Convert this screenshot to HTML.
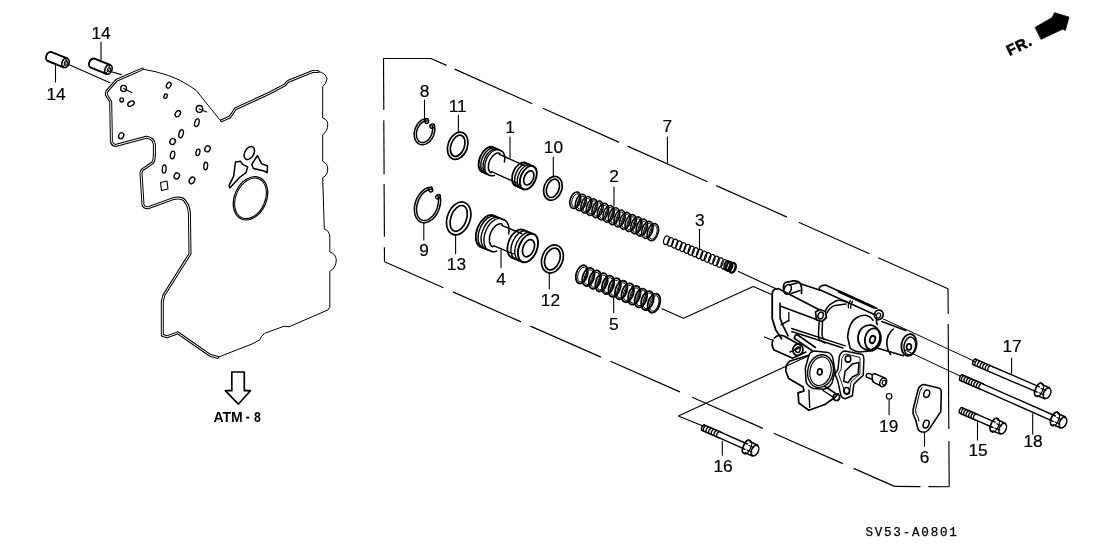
<!DOCTYPE html><html><head><meta charset="utf-8"><style>
html,body{margin:0;padding:0;background:#fff;}
svg{display:block;will-change:transform;}
text{font-family:"Liberation Sans",sans-serif;fill:#000;stroke:none;}
</style></head><body>
<svg width="1108" height="553" viewBox="0 0 1108 553" stroke="#000" stroke-linecap="round" stroke-linejoin="round">
<rect width="1108" height="553" fill="#fff" stroke="none"/>
<path d="M142.3,69 Q172,74 188.6,85.3 Q193,88 196.2,90.4 L219.8,119.8 L221.6,120.7 L229.7,117.1 Q233.3,112.5 235.2,108.9 L270,92.9 L285.2,84.8 Q287,81.5 289,81 L313,71.4 L318,71.4 Q326,73 327,79 Q326,84 322.7,86.6 L322.7,118 Q328,120 327.7,124.6 Q328,131 322.7,134.7 L322.7,161.3 Q328,164 327.7,168.9 Q328,175 322.7,177.7 L324.3,229 Q329.8,231 329.8,237.2 L329.8,251.9 Q336,254 336.3,260 Q336,268 329.8,271.4 L329.8,307.3 L328,309.9 L289,326.8 L284.2,326.2 L264.7,333.3 Q261,336 259.8,339.8 L252,344 L217.6,357.4 L210,355.2 L177.7,332.8 L166.9,336.8 L162.3,335.3 L162.3,301.4 L163.8,295.3 L190,253.8 L189.4,213 Q189,206 185.4,201.7 Q183,197 174,198.4 L147.9,207.8 Q144,208 143,204.9 L141,173.2 Q141,171 142.2,169.9 L152.8,162.6 Q154.4,160 154.4,154.4 L154.4,145 Q154,138 146.3,137.3 L115.5,145.5 Q112,145 111.4,141.4 L110.7,101.8 L106.5,95 Q105.8,92.5 107.5,90.5 L116.3,80.4 Z" stroke-width="1.00" fill="none" />
<path d="M221.6,120.7 L229.7,117.1 Q233.3,112.5 235.2,108.9 L270,92.9 L285.2,84.8 Q287,81.5 289,81 L313,71.4 L318,71.4" stroke-width="3.00" fill="none" />
<path d="M221.6,120.7 L229.7,117.1 Q233.3,112.5 235.2,108.9 L270,92.9 L285.2,84.8 Q287,81.5 289,81 L313,71.4 L318,71.4" stroke-width="1.00" fill="none" stroke="#fff"/>
<path d="M142.3,69 L116.3,80.4 L107.5,90.5 Q105.8,92.5 106.5,95 L110.7,101.8 L111.4,141.4 Q112,145 115.5,145.5 L146.3,137.3 Q154,138 154.4,145 L154.4,154.4 Q154.4,160 152.8,162.6 L142.2,169.9 Q141,171 141,173.2 L143,204.9 Q144,208 147.9,207.8 L174,198.4 Q183,197 185.4,201.7 Q189,206 189.4,213 L190,253.8 L163.8,295.3 L162.3,301.4 L162.3,335.3 L166.9,336.8 L177.7,332.8 L210,355.2 L217.6,357.4" stroke-width="3.00" fill="none" />
<path d="M142.3,69 L116.3,80.4 L107.5,90.5 Q105.8,92.5 106.5,95 L110.7,101.8 L111.4,141.4 Q112,145 115.5,145.5 L146.3,137.3 Q154,138 154.4,145 L154.4,154.4 Q154.4,160 152.8,162.6 L142.2,169.9 Q141,171 141,173.2 L143,204.9 Q144,208 147.9,207.8 L174,198.4 Q183,197 185.4,201.7 Q189,206 189.4,213 L190,253.8 L163.8,295.3 L162.3,301.4 L162.3,335.3 L166.9,336.8 L177.7,332.8 L210,355.2 L217.6,357.4" stroke-width="1.00" fill="none" stroke="#fff"/>
<ellipse cx="123.6" cy="88.5" rx="2.9" ry="3.1" transform="rotate(0 123.6 88.5)" stroke-width="1.35" fill="none" />
<ellipse cx="121.7" cy="99.9" rx="1.8" ry="2.1" transform="rotate(0 121.7 99.9)" stroke-width="1.35" fill="none" />
<ellipse cx="131.0" cy="103.6" rx="3.5" ry="2.2" transform="rotate(-30 131.0 103.6)" stroke-width="1.35" fill="none" />
<ellipse cx="168.7" cy="85.2" rx="2.1" ry="3.1" transform="rotate(30 168.7 85.2)" stroke-width="1.35" fill="none" />
<ellipse cx="165.6" cy="96.2" rx="1.6" ry="2.2" transform="rotate(20 165.6 96.2)" stroke-width="1.35" fill="none" />
<ellipse cx="121.2" cy="135.7" rx="2.4" ry="3.1" transform="rotate(30 121.2 135.7)" stroke-width="1.35" fill="none" />
<ellipse cx="177.8" cy="113.7" rx="2.3" ry="3.4" transform="rotate(35 177.8 113.7)" stroke-width="1.35" fill="none" />
<ellipse cx="196.9" cy="122.7" rx="2.1" ry="3.9" transform="rotate(15 196.9 122.7)" stroke-width="1.35" fill="none" />
<ellipse cx="181.1" cy="133.8" rx="2.1" ry="4.1" transform="rotate(15 181.1 133.8)" stroke-width="1.35" fill="none" />
<ellipse cx="172.6" cy="141.5" rx="2.6" ry="3.1" transform="rotate(30 172.6 141.5)" stroke-width="1.35" fill="none" />
<ellipse cx="172.6" cy="155.0" rx="2.1" ry="3.9" transform="rotate(10 172.6 155.0)" stroke-width="1.35" fill="none" />
<ellipse cx="197.9" cy="152.4" rx="1.9" ry="3.3" transform="rotate(15 197.9 152.4)" stroke-width="1.35" fill="none" />
<ellipse cx="207.5" cy="148.8" rx="2.6" ry="3.1" transform="rotate(30 207.5 148.8)" stroke-width="1.35" fill="none" />
<ellipse cx="205.7" cy="166.0" rx="1.9" ry="3.8" transform="rotate(5 205.7 166.0)" stroke-width="1.35" fill="none" />
<ellipse cx="164.2" cy="169.1" rx="1.9" ry="4.1" transform="rotate(5 164.2 169.1)" stroke-width="1.35" fill="none" />
<ellipse cx="176.8" cy="175.9" rx="2.6" ry="3.1" transform="rotate(30 176.8 175.9)" stroke-width="1.35" fill="none" />
<ellipse cx="192.0" cy="180.4" rx="2.6" ry="3.5" transform="rotate(30 192.0 180.4)" stroke-width="1.35" fill="none" />
<ellipse cx="199.4" cy="108.9" rx="3.2" ry="3.4" transform="rotate(0 199.4 108.9)" stroke-width="1.35" fill="none" />
<line x1="123.6" y1="88.5" x2="131.8" y2="92.6" stroke-width="1.10" />
<line x1="199.4" y1="108.9" x2="206.7" y2="112.1" stroke-width="1.10" />
<path d="M160.5,182.5 L167,181 L168,189 L161.5,190.5 Z" stroke-width="1.10" fill="none" />
<ellipse cx="249.3" cy="153.0" rx="4.5" ry="7.0" transform="rotate(30 249.3 153.0)" stroke-width="1.50" fill="none" />
<ellipse cx="250.5" cy="198.3" rx="16.0" ry="22.6" transform="rotate(24 250.5 198.3)" stroke-width="1.20" fill="none" />
<ellipse cx="250.5" cy="198.3" rx="14.6" ry="21.2" transform="rotate(24 250.5 198.3)" stroke-width="1.10" fill="none" />
<path d="M257.5,155.5 L251.8,164.4 L253.4,168.5 L264,171 L267.2,172.6 L267.5,166 L261.5,163.6 Z" stroke-width="1.50" fill="none" />
<path d="M235.5,162 L240.4,161.2 L242.8,164.4 L247.7,166.9 L246,172.6 L239.5,177.5 L229.8,188 L229,185.6 L233.8,175.8 L234.7,167.7 Z" stroke-width="1.50" fill="none" />
<path d="M47.9,61.0 A3.5,4.8 22 0 1 51.5,52.1" stroke-width="1.90" fill="none" />
<line x1="47.9" y1="61.0" x2="63.7" y2="67.4" stroke-width="1.90" />
<line x1="51.5" y1="52.1" x2="67.3" y2="58.4" stroke-width="1.90" />
<ellipse cx="65.5" cy="62.9" rx="3.5" ry="4.8" transform="rotate(22 65.5 62.9)" stroke-width="1.60" fill="none" />
<ellipse cx="66.0" cy="63.1" rx="1.6" ry="2.2" transform="rotate(22 66.0 63.1)" stroke-width="1.10" fill="none" />
<path d="M60.9,66.2 A3.5,4.8 22 0 0 64.5,57.3" stroke-width="0.90" fill="none" />
<path d="M90.9,67.6 A3.5,4.8 22 0 1 94.5,58.7" stroke-width="1.90" fill="none" />
<line x1="90.9" y1="67.6" x2="106.7" y2="74.0" stroke-width="1.90" />
<line x1="94.5" y1="58.7" x2="110.3" y2="65.0" stroke-width="1.90" />
<ellipse cx="108.5" cy="69.5" rx="3.5" ry="4.8" transform="rotate(22 108.5 69.5)" stroke-width="1.60" fill="none" />
<ellipse cx="109.0" cy="69.7" rx="1.6" ry="2.2" transform="rotate(22 109.0 69.7)" stroke-width="1.10" fill="none" />
<path d="M103.9,72.8 A3.5,4.8 22 0 0 107.5,63.9" stroke-width="0.90" fill="none" />
<line x1="69.2" y1="64.8" x2="110.0" y2="82.7" stroke-width="1.10" />
<line x1="112.4" y1="72.0" x2="121.3" y2="74.6" stroke-width="1.10" />
<line x1="101.0" y1="42.0" x2="101.0" y2="60.0" stroke-width="1.10" />
<line x1="55.5" y1="64.6" x2="55.5" y2="82.0" stroke-width="1.10" />
<line x1="383.5" y1="58.5" x2="430.9" y2="58.5" stroke-width="1.15" />
<line x1="430.9" y1="58.5" x2="446.5" y2="65.4" stroke-width="1.15" stroke-linecap="butt"/>
<line x1="454.7" y1="69.1" x2="532.3" y2="103.7" stroke-width="1.15" stroke-linecap="butt"/>
<line x1="542.8" y1="108.3" x2="619.2" y2="142.4" stroke-width="1.15" stroke-linecap="butt"/>
<line x1="627.5" y1="146.1" x2="707.5" y2="181.7" stroke-width="1.15" stroke-linecap="butt"/>
<line x1="716.2" y1="185.6" x2="787.0" y2="217.1" stroke-width="1.15" stroke-linecap="butt"/>
<line x1="798.6" y1="222.3" x2="869.5" y2="253.8" stroke-width="1.15" stroke-linecap="butt"/>
<line x1="878.2" y1="257.7" x2="948.0" y2="288.8" stroke-width="1.15" stroke-linecap="butt"/>
<line x1="948.0" y1="288.8" x2="948.2" y2="314.0" stroke-width="1.15" stroke-linecap="butt"/>
<line x1="948.2" y1="324.0" x2="948.8" y2="429.0" stroke-width="1.15" stroke-linecap="butt"/>
<line x1="948.9" y1="441.0" x2="949.2" y2="486.8" stroke-width="1.15" stroke-linecap="butt"/>
<line x1="949.2" y1="486.8" x2="928.4" y2="486.6" stroke-width="1.15" stroke-linecap="butt"/>
<line x1="920.4" y1="486.6" x2="894.5" y2="486.4" stroke-width="1.15" stroke-linecap="butt"/>
<line x1="894.5" y1="486.4" x2="853.6" y2="468.4" stroke-width="1.15" stroke-linecap="butt"/>
<line x1="842.8" y1="463.6" x2="773.7" y2="433.2" stroke-width="1.15" stroke-linecap="butt"/>
<line x1="762.9" y1="428.4" x2="692.2" y2="397.3" stroke-width="1.15" stroke-linecap="butt"/>
<line x1="679.9" y1="391.9" x2="610.4" y2="361.3" stroke-width="1.15" stroke-linecap="butt"/>
<line x1="601.0" y1="357.1" x2="530.4" y2="326.1" stroke-width="1.15" stroke-linecap="butt"/>
<line x1="521.0" y1="321.9" x2="452.9" y2="291.9" stroke-width="1.15" stroke-linecap="butt"/>
<line x1="443.5" y1="287.8" x2="384.5" y2="261.8" stroke-width="1.15" stroke-linecap="butt"/>
<line x1="384.5" y1="261.8" x2="384.4" y2="247.2" stroke-width="1.15" stroke-linecap="butt"/>
<line x1="384.4" y1="236.8" x2="384.1" y2="184.0" stroke-width="1.15" stroke-linecap="butt"/>
<line x1="384.1" y1="174.3" x2="383.8" y2="120.2" stroke-width="1.15" stroke-linecap="butt"/>
<line x1="383.8" y1="109.8" x2="383.5" y2="58.5" stroke-width="1.15" stroke-linecap="butt"/>
<ellipse cx="457.7" cy="145.8" rx="9.7" ry="14.0" transform="rotate(20 457.7 145.8)" stroke-width="1.70" fill="none" />
<ellipse cx="457.7" cy="145.8" rx="6.7" ry="11.0" transform="rotate(20 457.7 145.8)" stroke-width="1.70" fill="none" />
<ellipse cx="552.9" cy="188.3" rx="8.9" ry="12.3" transform="rotate(20 552.9 188.3)" stroke-width="1.70" fill="none" />
<ellipse cx="552.9" cy="188.3" rx="6.1" ry="9.5" transform="rotate(20 552.9 188.3)" stroke-width="1.70" fill="none" />
<ellipse cx="458.7" cy="218.4" rx="11.4" ry="17.0" transform="rotate(20 458.7 218.4)" stroke-width="1.70" fill="none" />
<ellipse cx="458.7" cy="218.4" rx="7.8" ry="13.4" transform="rotate(20 458.7 218.4)" stroke-width="1.70" fill="none" />
<ellipse cx="552.4" cy="259.0" rx="10.4" ry="14.4" transform="rotate(20 552.4 259.0)" stroke-width="1.70" fill="none" />
<ellipse cx="552.4" cy="259.0" rx="7.3" ry="11.3" transform="rotate(20 552.4 259.0)" stroke-width="1.70" fill="none" />
<path d="M433.9,124.2 L434.3,125.5 L434.6,126.8 L434.8,128.2 L434.8,129.6 L434.7,131.1 L434.4,132.6 L434.0,134.1 L433.5,135.5 L432.9,136.9 L432.2,138.2 L431.4,139.4 L430.5,140.6 L429.5,141.6 L428.4,142.5 L427.3,143.2 L426.2,143.9 L425.0,144.3 L423.9,144.6 L422.7,144.7 L421.6,144.7 L420.5,144.5 L419.4,144.1 L418.5,143.6 L417.6,142.9 L416.7,142.1 L416.0,141.1 L415.4,140.0 L414.9,138.8 L414.6,137.5 L414.3,136.2 L414.2,134.8 L414.2,133.3 L414.4,131.8 L414.7,130.4 L415.1,128.9 L415.6,127.5 L416.3,126.1 L417.0,124.8 L417.9,123.6 L418.8,122.5 L419.8,121.5 L420.9,120.7 L422.0,119.9 L423.1,119.4 L424.3,119.0 L425.5,118.7 L426.6,118.7 L427.8,118.8" stroke-width="1.50" fill="none" />
<path d="M432.0,125.3 L432.3,126.3 L432.5,127.4 L432.6,128.6 L432.6,129.8 L432.5,131.0 L432.2,132.2 L431.9,133.5 L431.5,134.7 L431.0,135.8 L430.4,136.9 L429.7,138.0 L429.0,138.9 L428.2,139.8 L427.4,140.6 L426.5,141.2 L425.6,141.7 L424.7,142.1 L423.8,142.4 L422.9,142.5 L422.0,142.5 L421.1,142.4 L420.3,142.1 L419.5,141.7 L418.8,141.1 L418.2,140.4 L417.7,139.6 L417.2,138.8 L416.9,137.8 L416.6,136.7 L416.5,135.6 L416.4,134.4 L416.4,133.2 L416.6,132.0 L416.8,130.8 L417.2,129.6 L417.6,128.4 L418.2,127.2 L418.8,126.1 L419.5,125.1 L420.2,124.2 L421.0,123.4 L421.9,122.6 L422.8,122.0 L423.7,121.5 L424.6,121.2 L425.5,120.9 L426.4,120.9 L427.3,120.9" stroke-width="1.50" fill="none" />
<ellipse cx="432.2" cy="126.1" rx="2.0" ry="2.4" transform="rotate(60 432.2 126.1)" stroke-width="1.40" fill="none" />
<ellipse cx="426.6" cy="121.0" rx="2.0" ry="2.4" transform="rotate(-20 426.6 121.0)" stroke-width="1.40" fill="none" />
<path d="M439.7,194.5 L440.2,196.2 L440.5,198.0 L440.6,199.9 L440.6,201.8 L440.4,203.8 L440.0,205.8 L439.5,207.8 L438.8,209.8 L438.0,211.7 L437.0,213.5 L436.0,215.2 L434.8,216.8 L433.5,218.2 L432.1,219.5 L430.7,220.5 L429.2,221.4 L427.7,222.0 L426.3,222.5 L424.8,222.7 L423.3,222.7 L422.0,222.4 L420.6,222.0 L419.4,221.3 L418.3,220.4 L417.3,219.3 L416.4,218.0 L415.7,216.6 L415.1,215.0 L414.7,213.2 L414.4,211.4 L414.4,209.5 L414.4,207.5 L414.7,205.5 L415.1,203.5 L415.7,201.5 L416.4,199.6 L417.3,197.7 L418.3,195.9 L419.4,194.3 L420.6,192.8 L421.9,191.4 L423.3,190.2 L424.8,189.2 L426.2,188.4 L427.7,187.8 L429.2,187.4 L430.7,187.3 L432.1,187.4" stroke-width="1.50" fill="none" />
<path d="M437.8,195.6 L438.2,197.1 L438.4,198.7 L438.5,200.3 L438.4,202.0 L438.2,203.7 L437.9,205.5 L437.4,207.3 L436.8,209.0 L436.1,210.7 L435.2,212.3 L434.3,213.8 L433.3,215.2 L432.2,216.4 L431.1,217.5 L429.9,218.5 L428.6,219.3 L427.4,219.9 L426.1,220.3 L424.9,220.5 L423.7,220.5 L422.6,220.3 L421.5,219.9 L420.5,219.4 L419.6,218.6 L418.8,217.7 L418.1,216.6 L417.5,215.3 L417.1,213.9 L416.7,212.4 L416.6,210.8 L416.5,209.2 L416.6,207.5 L416.9,205.7 L417.3,204.0 L417.8,202.2 L418.4,200.5 L419.2,198.8 L420.0,197.3 L421.0,195.8 L422.0,194.4 L423.1,193.2 L424.3,192.2 L425.5,191.3 L426.8,190.5 L428.0,190.0 L429.2,189.6 L430.5,189.5 L431.6,189.5" stroke-width="1.50" fill="none" />
<ellipse cx="438.0" cy="196.8" rx="2.0" ry="2.4" transform="rotate(60 438.0 196.8)" stroke-width="1.40" fill="none" />
<ellipse cx="430.7" cy="189.6" rx="2.0" ry="2.4" transform="rotate(-20 430.7 189.6)" stroke-width="1.40" fill="none" />
<path d="M481.8,171.7 A8.1,13.5 24.053187780906075 0 1 492.8,147.1" stroke-width="1.90" fill="none" />
<path d="M484.0,172.7 A8.1,13.5 24.053187780906075 0 1 495.0,148.1" stroke-width="1.40" fill="none" />
<path d="M486.2,173.7 A8.1,13.5 24.053187780906075 0 1 497.2,149.1" stroke-width="1.40" fill="none" />
<path d="M488.4,174.7 A8.1,13.5 24.053187780906075 0 1 499.4,150.0" stroke-width="1.40" fill="none" />
<line x1="481.8" y1="171.7" x2="490.0" y2="175.4" stroke-width="1.70" />
<line x1="492.8" y1="147.1" x2="501.0" y2="150.7" stroke-width="1.70" />
<path d="M501.0,150.7 L501.5,151.0 L501.9,151.2 L502.3,151.5 L502.6,151.9 L503.0,152.3 L503.3,152.7 L503.6,153.2 L503.8,153.7 L504.1,154.3 L504.3,154.9 L504.4,155.5 L504.6,156.1 L504.7,156.8 L504.7,157.5 L504.7,158.2 L504.7,158.9 L504.7,159.7 L504.6,160.4 L504.5,161.2 L504.4,162.0" stroke-width="1.50" fill="none" />
<path d="M490.0,175.4 L490.2,175.5 L490.4,175.6 L490.6,175.6 L490.8,175.7 L491.0,175.7 L491.2,175.8 L491.5,175.8 L491.7,175.8 L491.9,175.8 L492.1,175.8 L492.3,175.8 L492.6,175.8 L492.8,175.8 L493.0,175.8 L493.3,175.7 L493.5,175.7 L493.7,175.6 L494.0,175.6 L494.2,175.5 L494.5,175.4" stroke-width="1.50" fill="none" />
<path d="M491.2,172.8 A6.4,10.6 24.053187780906075 0 1 499.9,153.4" stroke-width="1.50" fill="none" />
<line x1="491.6" y1="171.7" x2="516.3" y2="182.7" stroke-width="1.40" />
<line x1="499.4" y1="154.4" x2="524.0" y2="165.4" stroke-width="1.40" />
<path d="M515.1,185.5 A7.5,12.5 24.053187780906075 0 1 525.3,162.7" stroke-width="1.80" fill="none" />
<path d="M517.8,186.7 A7.5,12.5 24.053187780906075 0 1 528.0,163.9" stroke-width="1.40" fill="none" />
<path d="M520.4,187.9 A7.5,12.5 24.053187780906075 0 1 530.6,165.1" stroke-width="1.40" fill="none" />
<line x1="515.1" y1="185.5" x2="523.2" y2="189.1" stroke-width="1.70" />
<line x1="525.3" y1="162.7" x2="533.4" y2="166.3" stroke-width="1.70" />
<ellipse cx="528.3" cy="177.7" rx="7.5" ry="12.5" transform="rotate(24.053187780906075 528.3 177.7)" stroke-width="1.90" fill="none" />
<ellipse cx="528.8" cy="177.9" rx="4.5" ry="7.5" transform="rotate(24.053187780906075 528.8 177.9)" stroke-width="1.70" fill="none" />
<path d="M480.1,246.7 A10.2,17.0 22.275897848258975 0 1 492.9,215.3" stroke-width="1.90" fill="none" />
<path d="M483.1,248.0 A10.2,17.0 22.275897848258975 0 1 495.9,216.5" stroke-width="1.40" fill="none" />
<path d="M486.1,249.2 A10.2,17.0 22.275897848258975 0 1 498.9,217.7" stroke-width="1.40" fill="none" />
<path d="M488.9,250.4 A10.2,17.0 22.275897848258975 0 1 501.8,218.9" stroke-width="1.40" fill="none" />
<line x1="480.1" y1="246.7" x2="491.2" y2="251.3" stroke-width="1.70" />
<line x1="492.9" y1="215.3" x2="504.0" y2="219.8" stroke-width="1.70" />
<path d="M504.0,219.8 L504.6,220.1 L505.2,220.4 L505.7,220.8 L506.1,221.2 L506.6,221.7 L507.0,222.2 L507.4,222.8 L507.7,223.5 L508.0,224.2 L508.3,224.9 L508.5,225.6 L508.7,226.4 L508.9,227.3 L509.0,228.1 L509.0,229.0 L509.0,230.0 L509.0,230.9 L508.9,231.9 L508.8,232.8 L508.7,233.8" stroke-width="1.50" fill="none" />
<path d="M491.2,251.3 L491.4,251.4 L491.7,251.5 L491.9,251.5 L492.2,251.6 L492.4,251.7 L492.7,251.7 L493.0,251.7 L493.3,251.7 L493.5,251.7 L493.8,251.7 L494.1,251.7 L494.4,251.7 L494.7,251.7 L495.0,251.6 L495.3,251.6 L495.6,251.5 L495.9,251.4 L496.1,251.3 L496.4,251.2 L496.7,251.1" stroke-width="1.50" fill="none" />
<path d="M492.9,246.9 A7.4,12.3 22.275897848258975 0 1 502.3,224.1" stroke-width="1.50" fill="none" />
<line x1="493.4" y1="245.7" x2="513.3" y2="253.9" stroke-width="1.40" />
<line x1="501.8" y1="225.4" x2="521.7" y2="233.5" stroke-width="1.40" />
<path d="M511.8,257.6 A9.0,15.0 22.275897848258975 0 1 523.2,229.8" stroke-width="1.80" fill="none" />
<path d="M515.3,259.0 A9.0,15.0 22.275897848258975 0 1 526.7,231.2" stroke-width="1.40" fill="none" />
<path d="M518.7,260.4 A9.0,15.0 22.275897848258975 0 1 530.1,232.7" stroke-width="1.40" fill="none" />
<line x1="511.8" y1="257.6" x2="522.3" y2="261.9" stroke-width="1.70" />
<line x1="523.2" y1="229.8" x2="533.7" y2="234.1" stroke-width="1.70" />
<ellipse cx="528.0" cy="248.0" rx="9.0" ry="15.0" transform="rotate(22.275897848258975 528.0 248.0)" stroke-width="1.90" fill="none" />
<ellipse cx="528.5" cy="248.2" rx="5.4" ry="9.0" transform="rotate(22.275897848258975 528.5 248.2)" stroke-width="1.70" fill="none" />
<ellipse cx="575.3" cy="200.2" rx="5.1" ry="8.5" transform="rotate(18 575.3 200.2)" stroke-width="1.60" fill="none" />
<ellipse cx="575.6" cy="200.4" rx="3.5" ry="6.7" transform="rotate(18 575.6 200.4)" stroke-width="0.90" fill="none" />
<ellipse cx="580.8" cy="202.5" rx="5.1" ry="8.5" transform="rotate(18 580.8 202.5)" stroke-width="1.60" fill="none" />
<ellipse cx="581.1" cy="202.7" rx="3.5" ry="6.7" transform="rotate(18 581.1 202.7)" stroke-width="0.90" fill="none" />
<ellipse cx="586.4" cy="204.8" rx="5.1" ry="8.5" transform="rotate(18 586.4 204.8)" stroke-width="1.60" fill="none" />
<ellipse cx="586.7" cy="205.0" rx="3.5" ry="6.7" transform="rotate(18 586.7 205.0)" stroke-width="0.90" fill="none" />
<ellipse cx="591.9" cy="207.1" rx="5.1" ry="8.6" transform="rotate(18 591.9 207.1)" stroke-width="1.60" fill="none" />
<ellipse cx="592.2" cy="207.3" rx="3.5" ry="6.8" transform="rotate(18 592.2 207.3)" stroke-width="0.90" fill="none" />
<ellipse cx="597.5" cy="209.3" rx="5.2" ry="8.6" transform="rotate(18 597.5 209.3)" stroke-width="1.60" fill="none" />
<ellipse cx="597.8" cy="209.5" rx="3.6" ry="6.8" transform="rotate(18 597.8 209.5)" stroke-width="0.90" fill="none" />
<ellipse cx="603.0" cy="211.6" rx="5.2" ry="8.6" transform="rotate(18 603.0 211.6)" stroke-width="1.60" fill="none" />
<ellipse cx="603.3" cy="211.8" rx="3.6" ry="6.8" transform="rotate(18 603.3 211.8)" stroke-width="0.90" fill="none" />
<ellipse cx="608.6" cy="213.9" rx="5.2" ry="8.6" transform="rotate(18 608.6 213.9)" stroke-width="1.60" fill="none" />
<ellipse cx="608.9" cy="214.1" rx="3.6" ry="6.8" transform="rotate(18 608.9 214.1)" stroke-width="0.90" fill="none" />
<ellipse cx="614.1" cy="216.2" rx="5.2" ry="8.7" transform="rotate(18 614.1 216.2)" stroke-width="1.60" fill="none" />
<ellipse cx="614.4" cy="216.4" rx="3.6" ry="6.9" transform="rotate(18 614.4 216.4)" stroke-width="0.90" fill="none" />
<ellipse cx="619.6" cy="218.5" rx="5.2" ry="8.7" transform="rotate(18 619.6 218.5)" stroke-width="1.60" fill="none" />
<ellipse cx="619.9" cy="218.7" rx="3.6" ry="6.9" transform="rotate(18 619.9 218.7)" stroke-width="0.90" fill="none" />
<ellipse cx="625.2" cy="220.8" rx="5.2" ry="8.7" transform="rotate(18 625.2 220.8)" stroke-width="1.60" fill="none" />
<ellipse cx="625.5" cy="221.0" rx="3.6" ry="6.9" transform="rotate(18 625.5 221.0)" stroke-width="0.90" fill="none" />
<ellipse cx="630.7" cy="223.1" rx="5.2" ry="8.7" transform="rotate(18 630.7 223.1)" stroke-width="1.60" fill="none" />
<ellipse cx="631.0" cy="223.3" rx="3.6" ry="6.9" transform="rotate(18 631.0 223.3)" stroke-width="0.90" fill="none" />
<ellipse cx="636.3" cy="225.3" rx="5.2" ry="8.7" transform="rotate(18 636.3 225.3)" stroke-width="1.60" fill="none" />
<ellipse cx="636.6" cy="225.5" rx="3.6" ry="6.9" transform="rotate(18 636.6 225.5)" stroke-width="0.90" fill="none" />
<ellipse cx="641.8" cy="227.6" rx="5.3" ry="8.8" transform="rotate(18 641.8 227.6)" stroke-width="1.60" fill="none" />
<ellipse cx="642.1" cy="227.8" rx="3.7" ry="7.0" transform="rotate(18 642.1 227.8)" stroke-width="0.90" fill="none" />
<ellipse cx="647.4" cy="229.9" rx="5.3" ry="8.8" transform="rotate(18 647.4 229.9)" stroke-width="1.60" fill="none" />
<ellipse cx="647.7" cy="230.1" rx="3.7" ry="7.0" transform="rotate(18 647.7 230.1)" stroke-width="0.90" fill="none" />
<ellipse cx="652.9" cy="232.2" rx="5.3" ry="8.8" transform="rotate(18 652.9 232.2)" stroke-width="1.60" fill="none" />
<ellipse cx="653.2" cy="232.4" rx="3.7" ry="7.0" transform="rotate(18 653.2 232.4)" stroke-width="0.90" fill="none" />
<ellipse cx="666.4" cy="240.2" rx="2.6" ry="4.4" transform="rotate(18 666.4 240.2)" stroke-width="1.20" fill="none" />
<ellipse cx="670.5" cy="241.9" rx="2.7" ry="4.4" transform="rotate(18 670.5 241.9)" stroke-width="1.20" fill="none" />
<ellipse cx="674.7" cy="243.6" rx="2.7" ry="4.5" transform="rotate(18 674.7 243.6)" stroke-width="1.20" fill="none" />
<ellipse cx="678.8" cy="245.4" rx="2.7" ry="4.5" transform="rotate(18 678.8 245.4)" stroke-width="1.20" fill="none" />
<ellipse cx="682.9" cy="247.1" rx="2.7" ry="4.6" transform="rotate(18 682.9 247.1)" stroke-width="1.20" fill="none" />
<ellipse cx="687.1" cy="248.8" rx="2.8" ry="4.6" transform="rotate(18 687.1 248.8)" stroke-width="1.20" fill="none" />
<ellipse cx="691.2" cy="250.6" rx="2.8" ry="4.6" transform="rotate(18 691.2 250.6)" stroke-width="1.20" fill="none" />
<ellipse cx="695.3" cy="252.3" rx="2.8" ry="4.7" transform="rotate(18 695.3 252.3)" stroke-width="1.20" fill="none" />
<ellipse cx="699.5" cy="254.0" rx="2.8" ry="4.7" transform="rotate(18 699.5 254.0)" stroke-width="1.20" fill="none" />
<ellipse cx="703.6" cy="255.7" rx="2.8" ry="4.7" transform="rotate(18 703.6 255.7)" stroke-width="1.20" fill="none" />
<ellipse cx="707.7" cy="257.4" rx="2.9" ry="4.8" transform="rotate(18 707.7 257.4)" stroke-width="1.20" fill="none" />
<ellipse cx="711.8" cy="259.2" rx="2.9" ry="4.8" transform="rotate(18 711.8 259.2)" stroke-width="1.20" fill="none" />
<ellipse cx="716.0" cy="260.9" rx="2.9" ry="4.8" transform="rotate(18 716.0 260.9)" stroke-width="1.20" fill="none" />
<ellipse cx="720.1" cy="262.6" rx="2.9" ry="4.9" transform="rotate(18 720.1 262.6)" stroke-width="1.20" fill="none" />
<ellipse cx="724.2" cy="264.4" rx="3.0" ry="4.9" transform="rotate(18 724.2 264.4)" stroke-width="1.20" fill="none" />
<ellipse cx="728.4" cy="266.1" rx="3.0" ry="5.0" transform="rotate(18 728.4 266.1)" stroke-width="1.20" fill="none" />
<ellipse cx="732.5" cy="267.8" rx="3.0" ry="5.0" transform="rotate(18 732.5 267.8)" stroke-width="1.20" fill="none" />
<ellipse cx="732.5" cy="267.8" rx="3.0" ry="5.0" transform="rotate(18 732.5 267.8)" stroke-width="2.40" fill="none" />
<ellipse cx="729.5" cy="266.5" rx="2.8" ry="4.8" transform="rotate(18 729.5 266.5)" stroke-width="1.80" fill="none" />
<ellipse cx="727.0" cy="265.5" rx="2.8" ry="4.8" transform="rotate(18 727.0 265.5)" stroke-width="1.40" fill="none" />
<ellipse cx="581.8" cy="274.4" rx="5.6" ry="9.4" transform="rotate(18 581.8 274.4)" stroke-width="1.80" fill="none" />
<ellipse cx="582.1" cy="274.6" rx="4.0" ry="7.6" transform="rotate(18 582.1 274.6)" stroke-width="0.90" fill="none" />
<ellipse cx="588.4" cy="277.0" rx="5.7" ry="9.4" transform="rotate(18 588.4 277.0)" stroke-width="1.80" fill="none" />
<ellipse cx="588.7" cy="277.2" rx="4.1" ry="7.6" transform="rotate(18 588.7 277.2)" stroke-width="0.90" fill="none" />
<ellipse cx="594.9" cy="279.6" rx="5.7" ry="9.5" transform="rotate(18 594.9 279.6)" stroke-width="1.80" fill="none" />
<ellipse cx="595.2" cy="279.8" rx="4.1" ry="7.7" transform="rotate(18 595.2 279.8)" stroke-width="0.90" fill="none" />
<ellipse cx="601.5" cy="282.3" rx="5.7" ry="9.5" transform="rotate(18 601.5 282.3)" stroke-width="1.80" fill="none" />
<ellipse cx="601.8" cy="282.5" rx="4.1" ry="7.7" transform="rotate(18 601.8 282.5)" stroke-width="0.90" fill="none" />
<ellipse cx="608.1" cy="284.9" rx="5.7" ry="9.5" transform="rotate(18 608.1 284.9)" stroke-width="1.80" fill="none" />
<ellipse cx="608.4" cy="285.1" rx="4.1" ry="7.7" transform="rotate(18 608.4 285.1)" stroke-width="0.90" fill="none" />
<ellipse cx="614.6" cy="287.5" rx="5.7" ry="9.6" transform="rotate(18 614.6 287.5)" stroke-width="1.80" fill="none" />
<ellipse cx="614.9" cy="287.7" rx="4.1" ry="7.8" transform="rotate(18 614.9 287.7)" stroke-width="0.90" fill="none" />
<ellipse cx="621.2" cy="290.1" rx="5.8" ry="9.6" transform="rotate(18 621.2 290.1)" stroke-width="1.80" fill="none" />
<ellipse cx="621.5" cy="290.3" rx="4.2" ry="7.8" transform="rotate(18 621.5 290.3)" stroke-width="0.90" fill="none" />
<ellipse cx="627.7" cy="292.7" rx="5.8" ry="9.7" transform="rotate(18 627.7 292.7)" stroke-width="1.80" fill="none" />
<ellipse cx="628.0" cy="292.9" rx="4.2" ry="7.9" transform="rotate(18 628.0 292.9)" stroke-width="0.90" fill="none" />
<ellipse cx="634.3" cy="295.3" rx="5.8" ry="9.7" transform="rotate(18 634.3 295.3)" stroke-width="1.80" fill="none" />
<ellipse cx="634.6" cy="295.5" rx="4.2" ry="7.9" transform="rotate(18 634.6 295.5)" stroke-width="0.90" fill="none" />
<ellipse cx="640.9" cy="298.0" rx="5.8" ry="9.7" transform="rotate(18 640.9 298.0)" stroke-width="1.80" fill="none" />
<ellipse cx="641.2" cy="298.2" rx="4.2" ry="7.9" transform="rotate(18 641.2 298.2)" stroke-width="0.90" fill="none" />
<ellipse cx="647.4" cy="300.6" rx="5.9" ry="9.8" transform="rotate(18 647.4 300.6)" stroke-width="1.80" fill="none" />
<ellipse cx="647.7" cy="300.8" rx="4.3" ry="8.0" transform="rotate(18 647.7 300.8)" stroke-width="0.90" fill="none" />
<ellipse cx="654.0" cy="303.2" rx="5.9" ry="9.8" transform="rotate(18 654.0 303.2)" stroke-width="1.80" fill="none" />
<ellipse cx="654.3" cy="303.4" rx="4.3" ry="8.0" transform="rotate(18 654.3 303.4)" stroke-width="0.90" fill="none" />
<line x1="614.0" y1="187.0" x2="614.0" y2="206.0" stroke-width="1.10" />
<line x1="699.5" y1="229.3" x2="699.5" y2="248.9" stroke-width="1.10" />
<line x1="613.7" y1="297.9" x2="613.7" y2="312.6" stroke-width="1.10" />
<line x1="424.5" y1="100.0" x2="424.5" y2="119.0" stroke-width="1.10" />
<line x1="458.4" y1="115.4" x2="458.4" y2="132.0" stroke-width="1.10" />
<line x1="510.0" y1="137.0" x2="510.0" y2="158.0" stroke-width="1.10" />
<line x1="553.3" y1="157.0" x2="553.3" y2="176.4" stroke-width="1.10" />
<line x1="667.4" y1="137.0" x2="667.4" y2="162.8" stroke-width="1.10" />
<line x1="423.8" y1="222.7" x2="423.8" y2="240.0" stroke-width="1.10" />
<line x1="455.6" y1="235.0" x2="455.6" y2="253.8" stroke-width="1.10" />
<line x1="501.0" y1="250.0" x2="501.0" y2="267.6" stroke-width="1.10" />
<line x1="549.3" y1="272.3" x2="549.3" y2="288.8" stroke-width="1.10" />
<line x1="738.5" y1="271.6" x2="776.0" y2="288.8" stroke-width="1.10" />
<path d="M662.0,308.7 L683.5,318.2 L753.2,286.6 L771.0,294.2" stroke-width="1.10" fill="none" />
<line x1="883.4" y1="319.0" x2="975.0" y2="361.5" stroke-width="1.00" />
<line x1="905.0" y1="350.0" x2="960.0" y2="376.0" stroke-width="1.00" />
<path d="M807.5,356.3 L678.4,415.9 L703.0,426.0" stroke-width="1.10" fill="none" />
<line x1="764.5" y1="336.9" x2="771.9" y2="340.1" stroke-width="1.10" />
<path d="M774.3,289.5 Q772.2,291 772.2,294 L772.2,318.4 L775.8,330 L781.6,338.7" stroke-width="1.84" fill="none" />
<path d="M774.3,289.5 L778.7,288.7 L819.2,309.7" stroke-width="1.72" fill="none" />
<path d="M780.1,303.2 L780.1,318.4 L783.7,327.1 L788.1,335.8" stroke-width="1.61" fill="none" />
<path d="M780.1,306.1 L817.8,319.9" stroke-width="1.61" fill="none" />
<path d="M788.8,312.6 L788.8,321.3" stroke-width="1.26" fill="none" />
<path d="M783.4,289 Q783,283.5 786,282.3 L793.5,280.8 Q799,280.5 800.5,283.9 Q802,287 801.5,293.4" stroke-width="1.72" fill="none" />
<ellipse cx="787.6" cy="289.3" rx="3.4" ry="5.0" transform="rotate(25 787.6 289.3)" stroke-width="1.61" fill="none" />
<path d="M789.5,285 L798.5,282.5 M791,293.5 L800,290.5" stroke-width="1.38" fill="none" />
<path d="M800.4,283.7 L819.5,290" stroke-width="1.72" fill="none" />
<path d="M819.2,289.5 Q818.5,285.5 825.5,285 L877,308.5" stroke-width="1.61" fill="none" />
<path d="M839,291.5 L874,307.5" stroke-width="2.64" fill="none" />
<path d="M819.2,289.5 L875.5,315" stroke-width="1.49" fill="none" />
<path d="M850.5,300.5 Q847.5,304 848.5,307.8 M852.5,301.5 Q850,304.5 850.8,308.3" stroke-width="1.26" fill="none" />
<ellipse cx="878.8" cy="314.8" rx="4.3" ry="4.8" transform="rotate(15 878.8 314.8)" stroke-width="1.72" fill="none" />
<ellipse cx="878.5" cy="315.5" rx="2.0" ry="2.6" transform="rotate(15 878.5 315.5)" stroke-width="1.26" fill="none" />
<path d="M877,319.5 Q875.5,322 877.5,324.5" stroke-width="1.49" fill="none" />
<path d="M815.5,312 L820,309.5 L825.5,311.5 L826.5,317.5 L822,321.5 L816.5,320 Z" stroke-width="1.72" fill="none" />
<ellipse cx="820.7" cy="315.5" rx="2.6" ry="3.4" transform="rotate(20 820.7 315.5)" stroke-width="1.49" fill="none" />
<path d="M825.7,310.5 Q828,305 832.2,303.2 Q836,300 839.5,300.3 L846.7,301.8 M827.2,312.6 Q830,307 835.1,305.4 L846,304" stroke-width="1.49" fill="none" />
<path d="M819.2,321.3 L818.5,332.9 Q818.5,339 820,340.1 L825,343 M822.5,322 L822,333 Q822,338 824,339.5" stroke-width="1.49" fill="none" />
<path d="M791.7,328.5 L845.3,345.9 M791.7,331.5 L843,348" stroke-width="1.38" fill="none" />
<path d="M847.6,336.8 Q849,322 856.5,317.8 Q861,315 865.3,315.3 Q870,316 873,320.3 M850.1,348.2 Q853,351 859,352 L873,350.7 M847.6,336.8 L850.1,348.2" stroke-width="1.61" fill="none" />
<ellipse cx="869.0" cy="337.5" rx="11.0" ry="12.5" transform="rotate(10 869.0 337.5)" stroke-width="1.72" fill="none" />
<ellipse cx="872.9" cy="339.3" rx="8.0" ry="11.0" transform="rotate(10 872.9 339.3)" stroke-width="1.84" fill="none" />
<ellipse cx="872.5" cy="339.5" rx="2.6" ry="3.8" transform="rotate(20 872.5 339.5)" stroke-width="1.72" fill="none" />
<path d="M881.8,321.6 L905.8,330.4 M893.2,329.2 Q887,334 886.8,343.1 Q887,350 890.6,354.5 M878,348.2 L903.3,355.8" stroke-width="1.61" fill="none" />
<ellipse cx="909.0" cy="345.0" rx="7.5" ry="11.0" transform="rotate(10 909.0 345.0)" stroke-width="1.84" fill="none" />
<ellipse cx="909.8" cy="346.0" rx="5.8" ry="9.0" transform="rotate(10 909.8 346.0)" stroke-width="1.49" fill="none" />
<ellipse cx="909.0" cy="346.9" rx="2.4" ry="3.0" transform="rotate(10 909.0 346.9)" stroke-width="1.72" fill="none" />
<path d="M797,334.5 L815.5,347.5 M794.5,338.5 L812.5,351" stroke-width="1.61" fill="none" />
<path d="M797,334.5 Q794,335.5 794.5,338.5" stroke-width="1.49" fill="none" />
<path d="M781,324.8 L788.7,320.4" stroke-width="1.38" fill="none" />
<path d="M772.9,340.1 Q771,346 774,350 L792.2,358 M774.3,338 Q778,334 784,336 L800,345" stroke-width="1.72" fill="none" />
<ellipse cx="797.9" cy="349.7" rx="5.0" ry="5.8" transform="rotate(15 797.9 349.7)" stroke-width="1.72" fill="none" />
<ellipse cx="797.9" cy="349.7" rx="2.3" ry="2.8" transform="rotate(15 797.9 349.7)" stroke-width="1.38" fill="none" />
<path d="M808.9,355.3 Q810,351.5 814.7,350.9 L827.8,352.4 Q832,354 832.8,358.2 L835,371.2 L832.1,382.8 Q829,388 823.4,389.3 L813.3,388.5 Q807,386 806,381.3 L805.3,368.3 Z" stroke-width="1.49" fill="none" />
<path d="M808.9,355.3 L790,361 Q785.5,364 785.8,371.2 L788.7,378.4 L803.2,387.1 L804,391 L798.1,392.9 L798.8,403 L808.9,410.3 L824.9,404.5 L835,397.2 L838,394" stroke-width="1.72" fill="none" />
<path d="M808.9,390 L809.7,407.4 M798.1,392.9 L802,391.5" stroke-width="1.38" fill="none" />
<ellipse cx="820.5" cy="371.2" rx="12.7" ry="16.6" transform="rotate(12 820.5 371.2)" stroke-width="1.38" fill="none" />
<ellipse cx="820.5" cy="371.2" rx="10.5" ry="14.5" transform="rotate(12 820.5 371.2)" stroke-width="1.15" fill="none" />
<ellipse cx="819.8" cy="371.9" rx="2.3" ry="3.0" transform="rotate(10 819.8 371.9)" stroke-width="1.72" fill="none" />
<path d="M790,352 L801,347 M793,358 L806,352" stroke-width="1.38" fill="none" />
<path d="M839.3,356.7 Q841,351 845.1,350.9 L862.5,354.5 Q864,356 863.9,359.6 L863.2,375.5 L858.1,379.9 L853.8,384.2 L852.4,395.8 L845.1,398.7 Q841.5,398 840.8,395 L837.9,381.3 L835,374.1 L837.9,369.7 Z" stroke-width="1.49" fill="none" />
<path d="M842,358 Q843.5,354 846,354 L860,357.5 L860,374 L851,382 L849.5,393.5 L846,395 L841,381 L838.5,374 L841,369.5 Z" stroke-width="0.92" fill="none" />
<ellipse cx="848.0" cy="358.9" rx="2.8" ry="3.2" transform="rotate(0 848.0 358.9)" stroke-width="1.61" fill="none" />
<ellipse cx="846.6" cy="390.7" rx="2.8" ry="3.2" transform="rotate(0 846.6 390.7)" stroke-width="1.61" fill="none" />
<path d="M845.1,371.2 L852.4,363.9 L858.9,362.5 L858.1,374.1 L852.4,377 L848,382.8 L843.7,381.3 Z" stroke-width="1.49" fill="none" />
<path d="M824.9,386.5 L835,393 M823,390.5 L833,397" stroke-width="1.49" fill="none" />
<ellipse cx="836.4" cy="397.2" rx="3.3" ry="3.3" transform="rotate(0 836.4 397.2)" stroke-width="1.72" fill="none" />
<path d="M973.3,364.8 A1.5,3.0 23.3 0 1 975.7,359.2" stroke-width="1.50" fill="none" />
<line x1="973.3" y1="364.8" x2="989.8" y2="371.9" stroke-width="1.50" />
<line x1="975.7" y1="359.2" x2="992.2" y2="366.4" stroke-width="1.50" />
<path d="M974.8,365.1 Q974.4,362.0 977.1,360.2" stroke-width="1.20" fill="none" />
<path d="M977.4,366.2 Q977.0,363.1 979.7,361.3" stroke-width="1.20" fill="none" />
<path d="M980.0,367.3 Q979.6,364.2 982.3,362.4" stroke-width="1.20" fill="none" />
<path d="M982.6,368.4 Q982.2,365.3 984.9,363.5" stroke-width="1.20" fill="none" />
<path d="M985.2,369.5 Q984.8,366.4 987.5,364.7" stroke-width="1.20" fill="none" />
<path d="M987.8,370.6 Q987.3,367.5 990.1,365.8" stroke-width="1.20" fill="none" />
<line x1="989.9" y1="371.8" x2="1037.2" y2="392.2" stroke-width="1.40" />
<line x1="992.2" y1="366.5" x2="1039.5" y2="386.8" stroke-width="1.40" />
<path d="M1035.6,395.9 A3.1,7.0 23.3 0 1 1041.1,383.1" stroke-width="1.70" fill="none" />
<line x1="1035.6" y1="395.9" x2="1036.9" y2="396.5" stroke-width="1.50" />
<line x1="1041.1" y1="383.1" x2="1042.5" y2="383.7" stroke-width="1.50" />
<path d="M1036.9,396.5 A3.1,7.0 23.3 0 0 1042.5,383.7" stroke-width="1.20" fill="none" />
<line x1="1037.3" y1="395.6" x2="1044.7" y2="398.8" stroke-width="1.50" />
<line x1="1042.1" y1="384.6" x2="1049.4" y2="387.7" stroke-width="1.50" />
<line x1="1039.1" y1="392.8" x2="1044.2" y2="394.9" stroke-width="1.10" />
<line x1="1041.0" y1="388.4" x2="1046.1" y2="390.5" stroke-width="1.10" />
<ellipse cx="1047.1" cy="393.2" rx="3.4" ry="5.5" transform="rotate(23.3 1047.1 393.2)" stroke-width="1.50" fill="none" />
<path d="M959.8,380.2 A1.5,3.0 23.8 0 1 962.2,374.8" stroke-width="1.50" fill="none" />
<line x1="959.8" y1="380.2" x2="980.8" y2="389.5" stroke-width="1.50" />
<line x1="962.2" y1="374.8" x2="983.3" y2="384.0" stroke-width="1.50" />
<path d="M961.3,380.6 Q960.9,377.5 963.6,375.7" stroke-width="1.20" fill="none" />
<path d="M963.8,381.7 Q963.4,378.6 966.1,376.8" stroke-width="1.20" fill="none" />
<path d="M966.3,382.8 Q965.9,379.7 968.6,377.9" stroke-width="1.20" fill="none" />
<path d="M968.8,383.9 Q968.4,380.8 971.1,379.0" stroke-width="1.20" fill="none" />
<path d="M971.3,385.0 Q970.9,381.9 973.6,380.1" stroke-width="1.20" fill="none" />
<path d="M973.8,386.1 Q973.4,383.0 976.1,381.2" stroke-width="1.20" fill="none" />
<path d="M976.3,387.2 Q975.9,384.1 978.7,382.3" stroke-width="1.20" fill="none" />
<path d="M978.8,388.3 Q978.4,385.2 981.2,383.4" stroke-width="1.20" fill="none" />
<line x1="980.9" y1="389.4" x2="1053.2" y2="421.3" stroke-width="1.40" />
<line x1="983.2" y1="384.1" x2="1055.5" y2="416.0" stroke-width="1.40" />
<path d="M1051.5,425.1 A3.1,7.0 23.8 0 1 1057.2,412.3" stroke-width="1.70" fill="none" />
<line x1="1051.5" y1="425.1" x2="1052.9" y2="425.7" stroke-width="1.50" />
<line x1="1057.2" y1="412.3" x2="1058.5" y2="412.9" stroke-width="1.50" />
<path d="M1052.9,425.7 A3.1,7.0 23.8 0 0 1058.5,412.9" stroke-width="1.20" fill="none" />
<line x1="1053.3" y1="424.8" x2="1060.6" y2="428.0" stroke-width="1.50" />
<line x1="1058.1" y1="413.8" x2="1065.4" y2="417.0" stroke-width="1.50" />
<line x1="1055.1" y1="421.9" x2="1060.1" y2="424.2" stroke-width="1.10" />
<line x1="1057.0" y1="417.5" x2="1062.0" y2="419.8" stroke-width="1.10" />
<ellipse cx="1063.0" cy="422.5" rx="3.4" ry="5.5" transform="rotate(23.8 1063.0 422.5)" stroke-width="1.50" fill="none" />
<path d="M959.8,413.3 A1.5,3.0 23.5 0 1 962.2,407.7" stroke-width="1.50" fill="none" />
<line x1="959.8" y1="413.3" x2="975.4" y2="420.0" stroke-width="1.50" />
<line x1="962.2" y1="407.7" x2="977.8" y2="414.5" stroke-width="1.50" />
<path d="M961.3,413.6 Q960.9,410.5 963.6,408.7" stroke-width="1.20" fill="none" />
<path d="M963.7,414.6 Q963.3,411.5 966.1,409.8" stroke-width="1.20" fill="none" />
<path d="M966.1,415.7 Q965.7,412.6 968.5,410.8" stroke-width="1.20" fill="none" />
<path d="M968.6,416.7 Q968.2,413.6 970.9,411.9" stroke-width="1.20" fill="none" />
<path d="M971.0,417.8 Q970.6,414.7 973.3,412.9" stroke-width="1.20" fill="none" />
<path d="M973.4,418.8 Q973.0,415.7 975.7,414.0" stroke-width="1.20" fill="none" />
<line x1="975.4" y1="419.9" x2="992.9" y2="427.5" stroke-width="1.40" />
<line x1="977.7" y1="414.6" x2="995.2" y2="422.2" stroke-width="1.40" />
<path d="M991.2,431.3 A3.1,7.0 23.5 0 1 996.8,418.4" stroke-width="1.70" fill="none" />
<line x1="991.2" y1="431.3" x2="992.6" y2="431.9" stroke-width="1.50" />
<line x1="996.8" y1="418.4" x2="998.2" y2="419.0" stroke-width="1.50" />
<path d="M992.6,431.9 A3.1,7.0 23.5 0 0 998.2,419.0" stroke-width="1.20" fill="none" />
<line x1="993.0" y1="431.0" x2="1000.3" y2="434.1" stroke-width="1.50" />
<line x1="997.8" y1="420.0" x2="1005.1" y2="423.1" stroke-width="1.50" />
<line x1="994.8" y1="428.1" x2="999.8" y2="430.3" stroke-width="1.10" />
<line x1="996.7" y1="423.7" x2="1001.7" y2="425.9" stroke-width="1.10" />
<ellipse cx="1002.7" cy="428.6" rx="3.4" ry="5.5" transform="rotate(23.5 1002.7 428.6)" stroke-width="1.50" fill="none" />
<path d="M701.8,430.3 A1.5,3.0 23.8 0 1 704.2,424.9" stroke-width="1.50" fill="none" />
<line x1="701.8" y1="430.3" x2="718.7" y2="437.8" stroke-width="1.50" />
<line x1="704.2" y1="424.9" x2="721.1" y2="432.3" stroke-width="1.50" />
<path d="M703.3,430.7 Q702.9,427.6 705.6,425.8" stroke-width="1.20" fill="none" />
<path d="M705.9,431.8 Q705.6,428.7 708.3,427.0" stroke-width="1.20" fill="none" />
<path d="M708.6,433.0 Q708.2,429.9 711.0,428.2" stroke-width="1.20" fill="none" />
<path d="M711.3,434.2 Q710.9,431.1 713.6,429.3" stroke-width="1.20" fill="none" />
<path d="M713.9,435.4 Q713.6,432.3 716.3,430.5" stroke-width="1.20" fill="none" />
<path d="M716.6,436.5 Q716.2,433.4 719.0,431.7" stroke-width="1.20" fill="none" />
<line x1="718.8" y1="437.7" x2="745.1" y2="449.3" stroke-width="1.40" />
<line x1="721.1" y1="432.4" x2="747.4" y2="444.0" stroke-width="1.40" />
<path d="M743.5,453.1 A3.1,7.0 23.8 0 1 749.1,440.3" stroke-width="1.70" fill="none" />
<line x1="743.5" y1="453.1" x2="744.8" y2="453.7" stroke-width="1.50" />
<line x1="749.1" y1="440.3" x2="750.5" y2="440.9" stroke-width="1.50" />
<path d="M744.8,453.7 A3.1,7.0 23.8 0 0 750.5,440.9" stroke-width="1.20" fill="none" />
<line x1="745.2" y1="452.8" x2="752.5" y2="456.0" stroke-width="1.50" />
<line x1="750.1" y1="441.8" x2="757.4" y2="445.0" stroke-width="1.50" />
<line x1="747.0" y1="450.0" x2="752.1" y2="452.2" stroke-width="1.10" />
<line x1="749.0" y1="445.6" x2="754.0" y2="447.8" stroke-width="1.10" />
<ellipse cx="755.0" cy="450.5" rx="3.4" ry="5.5" transform="rotate(23.8 755.0 450.5)" stroke-width="1.50" fill="none" />
<line x1="1011.6" y1="358.2" x2="1011.6" y2="373.4" stroke-width="1.10" />
<line x1="1032.7" y1="413.9" x2="1032.7" y2="434.2" stroke-width="1.10" />
<line x1="977.5" y1="421.5" x2="977.5" y2="440.0" stroke-width="1.10" />
<line x1="722.3" y1="441.4" x2="722.3" y2="455.2" stroke-width="1.10" />
<path d="M918,389.9 Q919.5,385 924,384.5 L939.7,388.3 Q941.3,389.5 941.3,391.5 L940.8,411.6 L930,427.9 Q927,432 924.5,432.2 Q919,432 918,429 L915.8,420.3 L913.1,413.8 L913.1,409.5 Z" stroke-width="1.60" fill="none" />
<path d="M922,387.5 Q920,390 919.5,393 L915.5,410 Q915.5,414 918,417 L919,421" stroke-width="1.00" fill="none" />
<ellipse cx="926.7" cy="393.7" rx="2.8" ry="3.8" transform="rotate(20 926.7 393.7)" stroke-width="1.50" fill="none" />
<ellipse cx="926.1" cy="424.1" rx="2.8" ry="4.0" transform="rotate(20 926.1 424.1)" stroke-width="1.50" fill="none" />
<line x1="924.5" y1="432.0" x2="924.5" y2="446.2" stroke-width="1.10" />
<ellipse cx="889.1" cy="396.3" rx="2.8" ry="2.8" transform="rotate(0 889.1 396.3)" stroke-width="1.20" fill="none" />
<line x1="889.1" y1="400.6" x2="889.1" y2="414.7" stroke-width="1.10" />
<path d="M868.6,373.4 Q865.5,374 866.3,377 L871.3,379 M868.6,373.4 L872.2,374.7" stroke-width="1.40" fill="none" />
<path d="M872.2,377 Q871.5,373.6 874.9,373.8 L885.3,378.1 M872.2,377 Q871.8,381 874,382.6 L880.4,385.6" stroke-width="1.50" fill="none" />
<ellipse cx="883.2" cy="382.3" rx="3.2" ry="4.6" transform="rotate(25 883.2 382.3)" stroke-width="1.50" fill="none" />
<ellipse cx="884.2" cy="382.6" rx="1.8" ry="2.4" transform="rotate(25 884.2 382.6)" stroke-width="1.20" fill="none" />
<path d="M1035.3,27.2 L1052,17.7 L1054.6,12.7 L1069,17.1 L1065.3,30.4 L1062.8,29.1 L1041.3,39.2 Z" stroke-width="0.80" fill="#000" />
<text x="0" y="0" font-size="15" transform="translate(1009.5,56) rotate(-26)" style="font-weight:bold;letter-spacing:0.8px;stroke:#000;stroke-width:0.6px">FR.</text>
<path d="M231.8,372 L244.3,372 L244.3,390.7 L250.4,390.7 L238.3,404.2 L225.3,390.7 L231.8,390.7 Z" stroke-width="1.70" fill="none" />
<text x="213.4" y="422" font-size="14" font-weight="bold" textLength="29.3" lengthAdjust="spacingAndGlyphs">ATM</text>
<rect x="246.2" y="416.6" width="3" height="2" fill="#000" stroke="none"/>
<text x="254.1" y="422" font-size="14" font-weight="bold" textLength="6.9" lengthAdjust="spacingAndGlyphs">8</text>
<text x="865.4" y="536.4" font-size="12.5" textLength="91.4" lengthAdjust="spacing" style="font-family:'Liberation Mono',monospace;stroke:#000;stroke-width:0.25px">SV53-A0801</text>
<text x="101.0" y="38.5" font-size="17.3" text-anchor="middle" style="stroke:#000;stroke-width:0.2px">14</text>
<text x="56.0" y="99.5" font-size="17.3" text-anchor="middle" style="stroke:#000;stroke-width:0.2px">14</text>
<text x="424.5" y="96.5" font-size="17.3" text-anchor="middle" style="stroke:#000;stroke-width:0.2px">8</text>
<text x="457.7" y="112.0" font-size="17.3" text-anchor="middle" style="stroke:#000;stroke-width:0.2px">11</text>
<text x="510.0" y="133.0" font-size="17.3" text-anchor="middle" style="stroke:#000;stroke-width:0.2px">1</text>
<text x="553.4" y="153.0" font-size="17.3" text-anchor="middle" style="stroke:#000;stroke-width:0.2px">10</text>
<text x="667.4" y="132.0" font-size="17.3" text-anchor="middle" style="stroke:#000;stroke-width:0.2px">7</text>
<text x="614.0" y="181.5" font-size="17.3" text-anchor="middle" style="stroke:#000;stroke-width:0.2px">2</text>
<text x="699.7" y="226.0" font-size="17.3" text-anchor="middle" style="stroke:#000;stroke-width:0.2px">3</text>
<text x="424.0" y="256.0" font-size="17.3" text-anchor="middle" style="stroke:#000;stroke-width:0.2px">9</text>
<text x="456.4" y="269.7" font-size="17.3" text-anchor="middle" style="stroke:#000;stroke-width:0.2px">13</text>
<text x="501.0" y="285.0" font-size="17.3" text-anchor="middle" style="stroke:#000;stroke-width:0.2px">4</text>
<text x="550.4" y="306.0" font-size="17.3" text-anchor="middle" style="stroke:#000;stroke-width:0.2px">12</text>
<text x="613.9" y="329.7" font-size="17.3" text-anchor="middle" style="stroke:#000;stroke-width:0.2px">5</text>
<text x="1012.0" y="352.0" font-size="17.3" text-anchor="middle" style="stroke:#000;stroke-width:0.2px">17</text>
<text x="1033.0" y="447.0" font-size="17.3" text-anchor="middle" style="stroke:#000;stroke-width:0.2px">18</text>
<text x="978.0" y="456.0" font-size="17.3" text-anchor="middle" style="stroke:#000;stroke-width:0.2px">15</text>
<text x="924.5" y="463.3" font-size="17.3" text-anchor="middle" style="stroke:#000;stroke-width:0.2px">6</text>
<text x="888.7" y="431.8" font-size="17.3" text-anchor="middle" style="stroke:#000;stroke-width:0.2px">19</text>
<text x="723.0" y="471.8" font-size="17.3" text-anchor="middle" style="stroke:#000;stroke-width:0.2px">16</text>
</svg></body></html>
